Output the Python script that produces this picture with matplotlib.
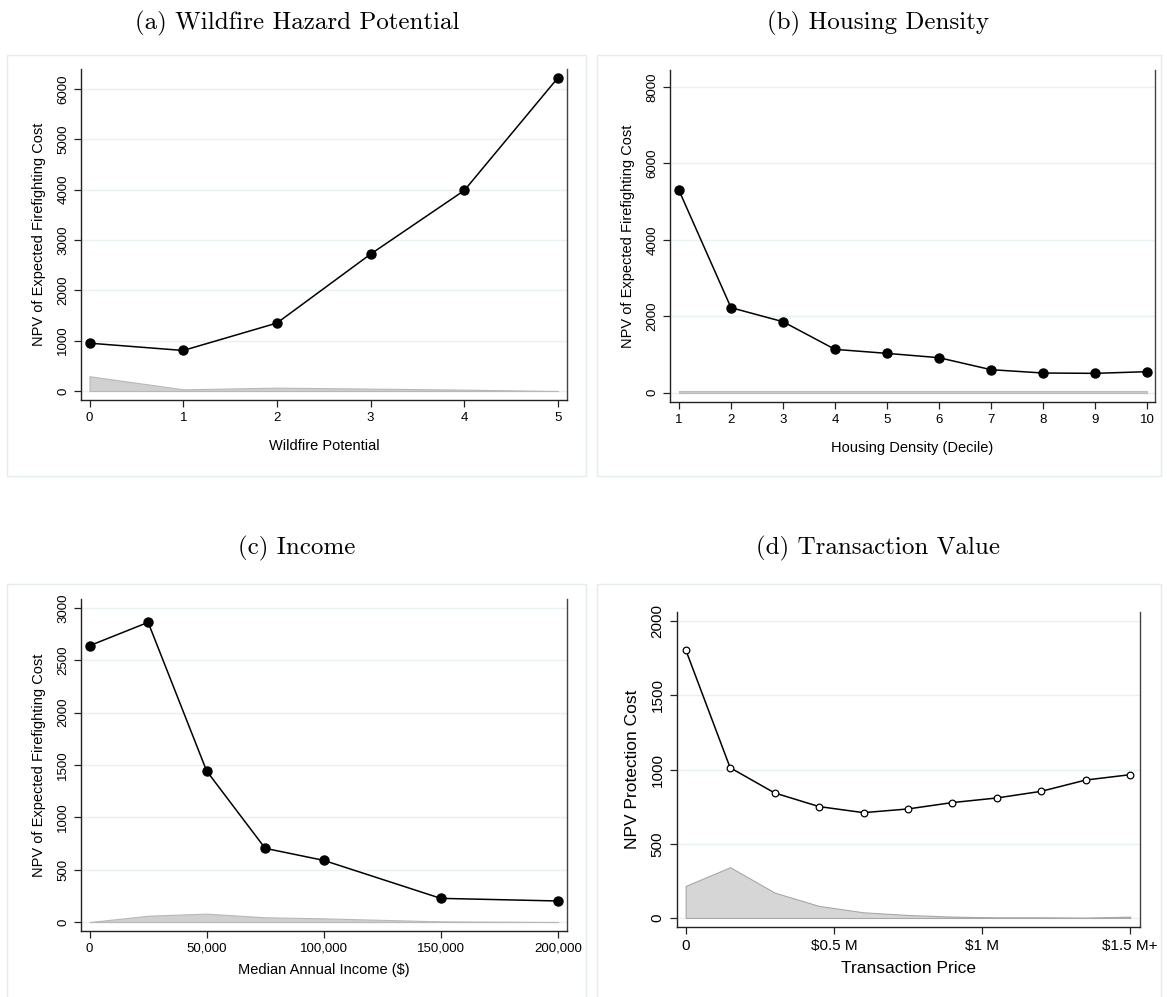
import numpy as np
import matplotlib
matplotlib.use("Agg")
import matplotlib.pyplot as plt
from matplotlib.patches import Rectangle

plt.rcParams['font.family'] = ['Liberation Sans', 'DejaVu Sans']

# (a) wildfire hazard potential
wf_x = [0, 1, 2, 3, 4, 5]
wf_cost = [950, 805, 1350, 2720, 3985, 6225]
wf_share = [293, 33, 66, 47, 27, 0]

# (b) housing density deciles
hd_x = [1, 2, 3, 4, 5, 6, 7, 8, 9, 10]
hd_cost = [5295, 2225, 1858, 1134, 1029, 916, 602, 515, 506, 550]
hd_share = [55, 55, 55, 55, 55, 55, 55, 55, 55, 55]

# (c) median annual income
inc_x = [0, 25000, 50000, 75000, 100000, 150000, 200000]
inc_cost = [2640, 2863, 1443, 704, 589, 226, 201]
inc_share = [0, 60, 80, 45, 35, 6, 0]

# (d) transaction value ($M)
tv_x = [0, 0.15, 0.3, 0.45, 0.6, 0.75, 0.9, 1.05, 1.2, 1.35, 1.5]
tv_cost = [1809, 1013, 843, 751, 710, 735, 778, 809, 854, 930, 966]
tv_share = [216, 342, 171, 81, 38, 20, 9, 4, 4, 2, 9]
tv_ticks = [0, 0.5, 1, 1.5]
tv_ticklabels = ['0', '$0.5 M', '$1 M', '$1.5 M+']

W, H = 1167, 997
fig = plt.figure(figsize=(W / 100, H / 100), dpi=100)


def box(l, t, r, b):
    return [l / W, 1 - b / H, (r - l) / W, (b - t) / H]


def frame(l, t, r, b):
    fig.patches.append(Rectangle((l / W, 1 - b / H), (r - l) / W, (b - t) / H,
                                 transform=fig.transFigure, fill=False,
                                 edgecolor='#e4ecec', lw=1.0))


def style(ax, yticks, fs):
    for s in ['left', 'bottom']:
        ax.spines[s].set_color('#222222')
        ax.spines[s].set_linewidth(1.0)
    ax.spines['right'].set_color('#444444')
    ax.spines['right'].set_linewidth(1.0)
    ax.spines['top'].set_visible(False)
    ax.set_yticks(yticks)
    for y in yticks:
        ax.axhline(y, color='#e9f1f2', lw=1.0, zorder=0)
    ax.tick_params(axis='both', direction='out', length=5, width=0.9,
                   color='#222222', labelsize=fs)
    ax.tick_params(axis='y', labelrotation=90)
    for lab in ax.get_yticklabels():
        lab.set_va('center')


def title(x, y, s):
    fig.text(x / W, 1 - y / H, s, ha='center', va='center', fontsize=18,
             family=['cmr10', 'DejaVu Serif'])


# panel (a)
frame(7, 55, 586, 476)
ax = fig.add_axes(box(81, 69, 567, 400))
ax.fill_between(wf_x, 0, wf_share, color='#d0d0d0', edgecolor='#b8b8b8', lw=0.8, zorder=1)
ax.plot(wf_x, wf_cost, '-o', color='black', lw=1.1, ms=6.5, zorder=3)
ax.set_xlim(-0.091, 5.096)
ax.set_ylim(-179, 6398)
ax.set_xticks(wf_x)
style(ax, [0, 1000, 2000, 3000, 4000, 5000, 6000], 9.5)
ax.set_xlabel('Wildfire Potential', fontsize=10.5, labelpad=11)
ax.set_ylabel('NPV of Expected Firefighting Cost', fontsize=10.5, labelpad=8)
title(297, 23, '(a) Wildfire Hazard Potential')

# panel (b)
frame(597, 55, 1161, 476)
ax = fig.add_axes(box(670, 70, 1155, 401.7))
ax.fill_between(hd_x, 0, hd_share, color='#cbcbcb', edgecolor='#bdbdbd', lw=0.8, zorder=1)
ax.plot(hd_x, hd_cost, '-o', color='black', lw=1.1, ms=6.5, zorder=3)
ax.set_xlim(0.827, 10.154)
ax.set_ylim(-236, 8446)
ax.set_xticks(hd_x)
style(ax, [0, 2000, 4000, 6000, 8000], 9.5)
ax.set_xlabel('Housing Density (Decile)', fontsize=10.5, labelpad=11)
ax.set_ylabel('NPV of Expected Firefighting Cost', fontsize=10.5, labelpad=8)
title(878, 23, '(b) Housing Density')

# panel (c)
frame(7, 584, 586, 1000)
ax = fig.add_axes(box(81, 599, 567, 930.7))
ax.fill_between(inc_x, 0, inc_share, color='#d0d0d0', edgecolor='#b8b8b8', lw=0.8, zorder=1)
ax.plot(inc_x, inc_cost, '-o', color='black', lw=1.1, ms=6.5, zorder=3)
ax.set_xlim(-3674, 203930)
ax.set_ylim(-83, 3086)
ax.set_xticks([0, 50000, 100000, 150000, 200000])
ax.set_xticklabels(['0', '50,000', '100,000', '150,000', '200,000'])
style(ax, [0, 500, 1000, 1500, 2000, 2500, 3000], 9.5)
ax.set_xlabel('Median Annual Income ($)', fontsize=10.5, labelpad=6)
ax.set_ylabel('NPV of Expected Firefighting Cost', fontsize=10.5, labelpad=8)
title(297, 548, '(c) Income')

# panel (d)
frame(597, 584, 1161, 1000)
ax = fig.add_axes(box(676.5, 612, 1140, 926.7))
ax.fill_between(tv_x, 0, tv_share, color='#d6d6d6', edgecolor='#a8a8a8', lw=0.8, zorder=1)
ax.plot(tv_x, tv_cost, '-o', color='black', lw=1.1, ms=4.8, mfc='white',
        mec='black', mew=0.9, zorder=3)
ax.set_xlim(-0.031, 1.533)
ax.set_ylim(-59, 2063)
ax.set_xticks(tv_ticks)
ax.set_xticklabels(tv_ticklabels)
style(ax, [0, 500, 1000, 1500, 2000], 11)
ax.set_xlabel('Transaction Price', fontsize=12.5, labelpad=6)
ax.set_ylabel('NPV Protection Cost', fontsize=12.5, labelpad=8)
title(878, 548, '(d) Transaction Value')

fig.savefig('out.png', dpi=100)
